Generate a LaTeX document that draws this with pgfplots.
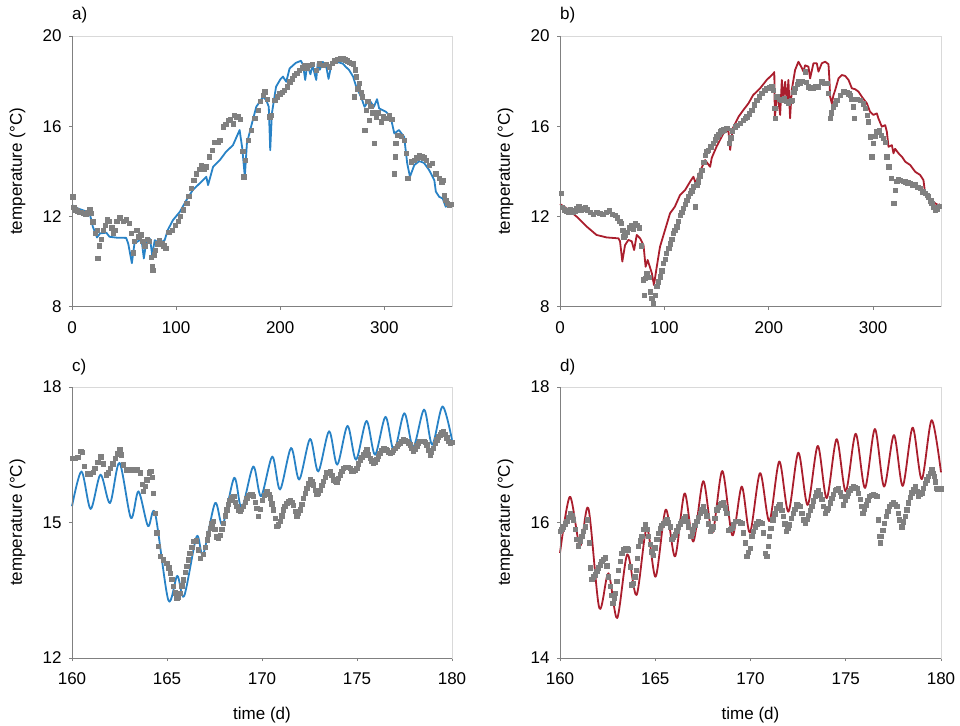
\documentclass[border=0pt]{standalone}
\usepackage{fontspec}
\setmainfont{Liberation Sans}
\usepackage{pgfplots}
\pgfplotsset{compat=1.18}
\definecolor{simblue}{RGB}{40,130,198}
\definecolor{simred}{RGB}{170,30,45}
\definecolor{obsgray}{RGB}{128,128,128}
\pgfplotsset{
  panel/.style={
    scale only axis, anchor=south west,
    axis line style={draw=black!15, line width=0.9pt},
    tick pos=left, tick align=outside, major tick length=3pt,
    every tick/.style={draw=black!50, line width=0.9pt},
    ticklabel style={font=\fontsize{17}{20}\selectfont},
    xticklabel style={yshift=-8pt},
    yticklabel style={xshift=-4pt},
    label style={font=\fontsize{17}{20}\selectfont},
    /pgf/number format/assume math mode=true,
    ylabel={temperature (°C)},
    ylabel style={at={(axis description cs:-0.1434,0.5)}, anchor=center},
    clip=false,
  },
  obs/.style={only marks, mark=square*, mark size=2.2pt, color=obsgray, mark options={draw=none, fill=obsgray}},
  simline/.style={no markers, line width=1.8pt, line join=round},
}
\newcommand{\frameLB}{\draw[black!50, line width=0.9pt] (rel axis cs:0,1) -- (rel axis cs:0,0) -- (rel axis cs:1,0);}
\newcommand{\fs}{\fontsize{17}{20}\selectfont}
\begin{document}
\begin{tikzpicture}
\useasboundingbox (0,0) rectangle (960pt,725pt);
% ---------------- a)
\begin{axis}[panel, at={(72pt,418.3pt)}, width=380pt, height=270.7pt,
  xmin=0, xmax=365, ymin=8, ymax=20, xtick={0,100,200,300}, ytick={8,12,16,20}]
\addplot[obs] coordinates {
(0.5,12.87) (1.5,12.4) (3,12.3) (5,12.25) (7,12.2) (9,12.2) (11,12.15) (13,12.1) (15,12.2) (17,12.3) (18.5,12.15)
(20,11.77) (22,11.25) (24,11.4) (24.5,10.14) (26,10.7) (28,11.0) (30,11.4) (32,11.6) (34,11.85) (36,11.8) (38,11.5)
(39.6,11.25) (41,11.4) (43,11.8) (46,11.95) (49,11.8) (52,11.85) (55,11.7) (57,11.25) (59,10.4) (60,10.9) (62,11.4)
(64,11.1) (66,11.2) (68,10.9) (70,10.7) (72,11.0) (74,10.9) (76,10.2) (77,9.77) (77.5,9.62) (79,10.3) (80,10.5)
(82,10.8) (84,10.95) (86,10.8) (88,10.7) (90,10.6) (93,11.3) (96,11.4) (99,11.6) (102,11.8) (104,12.0) (107,12.3)
(110,12.58) (112,12.9) (114.7,13.24) (117,13.6) (119.5,13.9) (122,14.1) (124,14.28) (127,14.1) (129,14.2) (132,14.65)
(134.5,14.95) (137,15.3) (140,15.3) (142,15.38) (145,15.98) (147.5,16.1) (150,16.27) (152,16.3) (154.6,16.12)
(156,16.5) (158,16.4) (159.4,16.42) (161.7,16.3) (164,14.9) (165,13.76) (166.5,14.5) (169,15.38) (172,15.83)
(175.4,16.35) (178.6,16.72) (181,17.1) (183.4,17.38) (185,17.53) (187.5,17.2) (189.8,16.42) (191.4,16.5)
(194.6,17.16) (197,17.3) (199.4,17.45) (202,17.5) (204,17.6) (206.5,17.75) (209,17.97) (211.5,18.1) (213.7,18.27)
(216,18.35) (218.5,18.49) (221,18.6) (223,18.7) (225.5,18.6) (228,18.7) (231,18.75) (234.5,18.49) (237.7,18.78)
(241,18.7) (244,18.75) (247,18.63) (250,18.8) (252.5,18.9) (255,18.96) (257.5,19.0) (260,19.0) (262.5,18.95)
(264.5,18.9) (266.5,18.85) (268.5,18.8) (270,18.78) (271,17.3) (272,18.5) (273,18.2) (274.4,17.67) (276,17.9)
(277.5,17.5) (279,17.3) (281,15.83) (282.4,16.72) (284,17.1) (285.6,16.27) (287,16.9) (289,16.6) (290,15.24)
(292,16.42) (294,16.6) (297,16.2) (299,16.45) (301.6,16.35) (304.8,16.5) (307,16.3) (309.6,13.9) (310.5,14.65)
(311,15.24) (313,15.6) (316,15.55) (319,15.38) (321,14.8) (322.4,13.69) (325.6,14.43) (328.8,14.5) (331,14.6)
(333.5,14.72) (336,14.65) (338,14.6) (340,14.5) (343,14.28) (346,14.35) (349.5,13.9) (352.7,13.69) (355,13.54)
(356.5,13.6) (357.5,12.95) (359,12.73) (360.5,12.6) (362.3,12.5) (364,12.55)
};
\addplot[simline, simblue] coordinates {
(0,12.5) (6,12.35) (12,12.25) (17,12.14) (20,11.55) (24,11.07) (27,11.25) (33,11.28) (36,11.1) (43,11.06) (52,11.05)
(54,10.8) (57.5,9.93) (60,10.8) (65,10.95) (67,10.9) (69,10.14) (71.6,10.95) (75,11.0) (77,10.3) (79.5,10.95)
(84,10.8) (89,10.95) (92,11.4) (97,11.84) (103.5,12.2) (110,12.73) (116,13.17) (122.7,13.47) (129,13.76)
(130.7,13.39) (135.5,14.2) (142,14.5) (148,14.87) (154.6,15.16) (161,15.83) (163.6,15.0) (166,13.76) (168,15.24)
(172,15.98) (177,16.86) (183.4,17.3) (186.6,17.16) (189,16.86) (190.4,14.94) (192,16.57) (196,17.75) (200,18.07)
(202.6,18.2) (205.8,17.97) (209,18.56) (215,18.81) (220,18.9) (222,18.7) (224,18.05) (226,18.75) (229,18.3)
(231,18.7) (234.6,18.05) (236,18.8) (238,18.5) (241,18.85) (244,18.7) (246.4,18.1) (249,18.7) (253.7,18.86)
(260,18.78) (263,18.63) (266,18.5) (270,18.2) (273,17.75) (277.6,17.3) (281,16.86) (283,17.0) (285.6,17.16)
(288,17.0) (290,16.86) (293,17.2) (295,16.79) (301.6,16.64) (306,16.42) (309.6,15.68) (314,15.83) (319,15.53)
(322,14.35) (324.6,13.76) (328.8,14.28) (333.5,14.45) (338,14.38) (343,14.06) (348,13.61) (349.5,13.1)
(352.7,12.87) (356,12.8) (359,12.43) (360.7,12.55) (364,12.5)
};
\frameLB
\node[anchor=west, inner sep=0pt, font=\fs] at (axis description cs:0,1.077) {a)};
\end{axis}
% ---------------- b)
\begin{axis}[panel, at={(560pt,418.3pt)}, width=381pt, height=270.7pt,
  xmin=0, xmax=365, ymin=8, ymax=20, xtick={0,100,200,300}, ytick={8,12,16,20}]
\addplot[obs] coordinates {
(1,13.02) (2,12.4) (4,12.3) (6,12.25) (8,12.2) (10,12.3) (12,12.2) (14,12.25) (16,12.35) (18,12.45) (20,12.3)
(22,12.35) (24,12.4) (26,12.3) (29,12.2) (32,12.1) (35,12.2) (38,12.15) (41,12.1) (44,12.2) (47,12.25) (50,12.1)
(53,12.05) (55,11.95) (57,11.8) (58.5,11.7) (60,11.4) (61,11.1) (62,11.2) (64,11.3) (66,11.5) (68,11.6) (70,11.45)
(72,11.7) (74,11.6) (76,11.5) (78,10.7) (79.5,9.2) (80.5,8.5) (81.5,9.25) (83,9.48) (85,9.3) (86.6,8.66) (88,8.37)
(89.5,8.15) (91,8.5) (92.7,8.9) (94,9.1) (95.8,9.33) (97.5,9.6) (99,9.92) (100.5,10.1) (102,10.36) (104,10.6)
(105.4,10.8) (107,11.0) (108.6,11.25) (110,11.4) (111.8,11.55) (113.5,11.8) (115,12.06) (116.5,12.2) (118,12.36)
(120,12.55) (121.4,12.73) (123,12.9) (124.6,13.02) (126,13.15) (127.8,13.32) (129.4,12.43) (131,13.4) (132.6,13.54)
(134,13.8) (135.8,14.06) (137.5,14.4) (139,14.72) (140.5,14.9) (142,14.95) (144.5,15.1) (147,15.24) (148.5,15.4)
(150,15.54) (152,15.65) (153.4,15.76) (155,15.8) (157,15.85) (159.7,15.9) (162,15.24) (163.5,15.5) (165,15.8)
(167.7,15.98) (170,16.05) (172.5,16.13) (175.7,16.27) (177.5,16.35) (179,16.42) (181,16.55) (183.7,16.72)
(186,16.95) (188.5,17.16) (191,17.3) (193.3,17.46) (196,17.6) (198,17.68) (200.5,17.7) (202.9,17.75) (204.5,17.6)
(205.5,16.79) (206,16.35) (207.5,17.3) (210,17.2) (212.5,17.16) (215,17.25) (217,17.1) (218.8,17.01) (221,17.1)
(222,17.16) (224,17.5) (225,17.68) (227,17.85) (228.4,17.97) (230,17.9) (232,18.0) (234.8,18.42) (236,17.95)
(238,17.75) (240,17.7) (242.8,17.68) (245,17.75) (247.6,17.75) (250.8,17.97) (253,17.9) (255.6,17.9) (257.2,17.46)
(258.8,16.35) (260,16.6) (262,16.87) (263.5,17.0) (265.2,17.16) (268.4,17.38) (271.6,17.53) (274.5,17.5)
(276.5,17.45) (277.9,17.38) (279.5,17.2) (281,16.87) (281.8,16.35) (284.5,17.2) (287.5,17.16) (290.7,17.0)
(292.5,16.8) (294,16.5) (295.5,16.2) (297,15.54) (298.7,14.65) (300.3,15.24) (302,15.55) (303.5,15.76) (305.5,15.8)
(307.5,15.6) (309.9,15.46) (311.5,15.3) (313,14.65) (314.7,14.2) (317,13.69) (319.5,12.58) (321,13.17) (322.5,13.55)
(324,13.65) (325.9,13.61) (328.5,13.55) (330.7,13.54) (333,13.5) (335.5,13.47) (338,13.4) (340.3,13.4) (342.5,13.3)
(345,13.25) (347.5,13.1) (349.8,13.02) (351.5,12.95) (353,12.87) (355,12.7) (356.2,12.58) (358,12.4) (359.4,12.29)
(361,12.35) (363,12.45)
};
\addplot[simline, simred] coordinates {
(0,12.55) (6.4,12.36) (16,11.99) (25.6,11.55) (35,11.18) (44.7,11.07) (56,11.03) (57.5,10.9) (59.7,10.0)
(62.3,10.73) (65.5,10.96) (68.7,10.9) (71,10.51) (73.5,11.18) (76.7,11.03) (80,10.73) (82,9.77) (84,10.07)
(88,9.48) (90,8.96) (92.7,9.77) (95.8,10.66) (100.6,11.4) (105.4,12.14) (110,12.43) (115,12.95) (119.8,13.17)
(124.6,13.54) (127.8,13.76) (130,13.47) (134,13.98) (139,14.5) (143.8,14.2) (145.4,14.6) (150,15.1) (156.5,15.68)
(161.3,15.83) (163,14.95) (165.5,15.9) (171,16.42) (175.7,16.72) (180.5,17.01) (185,17.38) (191.7,17.68)
(198,18.05) (204.5,18.34) (205.3,18.4) (205.8,16.35) (207.7,17.31) (209,17.2) (210.9,16.5) (212.5,18.05)
(214,17.2) (215.7,17.97) (217.3,17.0) (218.8,18.05) (220.4,16.35) (222,17.6) (225.2,18.49) (228.4,18.86)
(231.5,18.6) (233.2,18.42) (234.8,18.7) (238,18.64) (239.6,18.12) (242.8,18.79) (246,18.79) (247.6,18.42)
(250.8,18.79) (254,18.86) (257.2,18.75) (258.1,18.05) (258.8,17.31) (260.4,17.01) (262,17.38) (263.6,17.6)
(266.8,18.12) (270,18.27) (273.2,18.23) (276.4,18.05) (279.6,17.68) (282.8,17.64) (286,17.53) (289.1,17.31)
(294,17.01) (297,16.64) (300.3,16.5) (303.5,16.57) (305,16.35) (308.3,15.98) (311.5,16.05) (313.1,15.76)
(314.7,15.09) (317.9,15.16) (319.5,14.8) (321,15.0) (324.3,14.8) (327.5,14.65) (330.7,14.43) (335.5,14.28)
(340.3,13.98) (345,13.84) (348.2,13.61) (349.8,13.02) (353,12.87) (356.2,12.73) (359.4,12.58) (362.6,12.5) (364,12.55)
};
\frameLB
\node[anchor=west, inner sep=0pt, font=\fs] at (axis description cs:0,1.077) {b)};
\end{axis}
% ---------------- c)
\begin{axis}[panel, at={(72pt,67pt)}, width=380pt, height=271pt,
  xmin=160, xmax=180, ymin=12, ymax=18, xtick={160,165,170,175,180}, ytick={12,15,18},
  xlabel={time (d)}, xlabel style={at={(axis description cs:0.5,-0.21)}, anchor=center}]
\addplot[obs] coordinates {
(160.0,16.43) (160.15,16.43) (160.3,16.45) (160.45,16.58) (160.55,16.55) (160.65,16.25) (160.8,16.08) (160.95,16.08)
(161.1,16.12) (161.2,16.2) (161.35,16.33) (161.5,16.46) (161.65,16.3) (161.8,16.06) (161.9,16.1) (162.0,16.2)
(162.15,16.3) (162.26,16.43) (162.4,16.52) (162.5,16.61) (162.6,16.5) (162.7,16.28) (162.85,16.17) (163.0,16.17)
(163.2,16.17) (163.4,16.17) (163.58,16.1) (163.68,15.85) (163.75,15.69) (163.85,15.8) (163.93,15.95) (164.05,16.1)
(164.15,16.13) (164.22,16.0) (164.28,15.65) (164.37,15.21) (164.46,14.77) (164.54,14.47) (164.63,14.25) (164.8,14.18)
(164.98,14.1) (165.08,14.0) (165.16,13.88) (165.25,13.75) (165.33,13.59) (165.42,13.45) (165.5,13.33) (165.6,13.35)
(165.68,13.44) (165.77,13.6) (165.86,13.73) (165.95,13.9) (166.04,14.03) (166.12,14.18) (166.2,14.32) (166.3,14.45)
(166.4,14.58) (166.55,14.6) (166.65,14.4) (166.74,14.21) (166.9,14.3) (167.0,14.45) (167.1,14.62) (167.18,14.75)
(167.26,14.88) (167.35,14.97) (167.44,15.03) (167.52,14.85) (167.6,14.69) (167.7,14.65) (167.8,14.72) (167.88,14.85)
(167.96,14.99) (168.05,15.15) (168.14,15.28) (168.22,15.4) (168.3,15.5) (168.4,15.55) (168.5,15.58) (168.6,15.45)
(168.67,15.36) (168.76,15.28) (168.84,15.25) (168.92,15.3) (169.0,15.36) (169.1,15.45) (169.2,15.54) (169.3,15.6)
(169.37,15.62) (169.46,15.62) (169.54,15.58) (169.63,15.45) (169.72,15.32) (169.8,15.14) (169.9,15.3) (170.0,15.5)
(170.12,15.6) (170.25,15.69) (170.35,15.62) (170.42,15.55) (170.5,15.42) (170.6,15.28) (170.68,15.1) (170.77,14.92)
(170.86,14.95) (170.95,15.03) (171.03,15.15) (171.12,15.28) (171.2,15.36) (171.3,15.43) (171.4,15.47) (171.47,15.5)
(171.56,15.45) (171.65,15.38) (171.74,15.25) (171.82,15.14) (171.9,15.2) (172.0,15.28) (172.08,15.4) (172.17,15.54)
(172.26,15.65) (172.35,15.76) (172.44,15.86) (172.53,15.95) (172.62,15.9) (172.7,15.84) (172.79,15.72) (172.88,15.62)
(172.97,15.66) (173.05,15.72) (173.14,15.82) (173.23,15.91) (173.32,16.0) (173.4,16.1) (173.5,16.12) (173.58,16.13)
(173.67,16.05) (173.75,15.95) (173.84,15.92) (173.93,15.9) (174.02,15.98) (174.1,16.06) (174.19,16.13) (174.28,16.2)
(174.37,16.22) (174.45,16.23) (174.54,16.22) (174.63,16.2) (174.72,16.15) (174.8,16.13) (174.9,16.16) (174.98,16.2)
(175.07,16.3) (175.16,16.39) (175.25,16.45) (175.33,16.5) (175.42,16.56) (175.5,16.61) (175.6,16.5) (175.68,16.43)
(175.77,16.37) (175.86,16.32) (175.95,16.35) (176.03,16.4) (176.12,16.47) (176.2,16.54) (176.3,16.6) (176.4,16.65)
(176.5,16.62) (176.57,16.6) (176.65,16.55) (176.74,16.54) (176.83,16.56) (176.92,16.6) (177.0,16.64) (177.1,16.69)
(177.18,16.73) (177.26,16.76) (177.35,16.8) (177.44,16.83) (177.52,16.82) (177.62,16.8) (177.71,16.76) (177.8,16.72)
(177.88,16.64) (177.96,16.58) (178.05,16.62) (178.14,16.7) (178.22,16.76) (178.3,16.8) (178.4,16.8) (178.5,16.8)
(178.58,16.78) (178.67,16.72) (178.76,16.6) (178.84,16.5) (178.92,16.55) (179.02,16.65) (179.1,16.75) (179.2,16.83)
(179.28,16.9) (179.37,16.94) (179.46,16.99) (179.54,17.02) (179.63,16.95) (179.72,16.88) (179.8,16.8) (179.9,16.76)
(180.0,16.78)
};
\addplot[simline, simblue, smooth] coordinates {
(160,15.36) (160.5,16.13) (160.98,15.3) (161.5,16.06) (162.0,15.43) (162.5,16.32) (163.1,15.1) (163.5,15.69)
(164.0,14.92) (164.37,15.21) (165.07,13.28) (165.54,13.82) (165.9,13.37) (166.56,14.69) (166.9,14.29) (167.53,15.43)
(167.93,14.95) (168.54,15.99) (168.93,15.32) (169.54,16.24) (169.95,15.58) (170.54,16.46) (170.95,15.73)
(171.53,16.65) (171.96,15.95) (172.53,16.85) (172.96,16.13) (173.53,17.02) (173.96,16.28) (174.5,17.14)
(174.95,16.39) (175.5,17.25) (175.95,16.5) (176.5,17.34) (176.95,16.58) (177.49,17.42) (177.96,16.67)
(178.53,17.5) (178.96,16.72) (179.5,17.57) (180,16.83)
};
\frameLB
\node[anchor=west, inner sep=0pt, font=\fs] at (axis description cs:0,1.072) {c)};
\end{axis}
% ---------------- d)
\begin{axis}[panel, at={(560pt,67pt)}, width=381pt, height=271pt,
  xmin=160, xmax=180, ymin=14, ymax=18, xtick={160,165,170,175,180}, ytick={14,16,18},
  xlabel={time (d)}, xlabel style={at={(axis description cs:0.5,-0.21)}, anchor=center}]
\addplot[obs] coordinates {
(160.0,15.87) (160.08,15.9) (160.17,15.94) (160.26,15.98) (160.35,16.02) (160.43,16.08) (160.52,16.14) (160.61,16.1)
(160.7,16.04) (160.79,15.9) (160.88,15.75) (160.97,15.66) (161.05,15.72) (161.14,15.8) (161.22,15.87) (161.31,15.94)
(161.43,16.04) (161.54,15.7) (161.57,15.33) (161.66,15.16) (161.75,15.2) (161.84,15.23) (161.92,15.28) (162.0,15.33)
(162.1,15.38) (162.19,15.43) (162.28,15.46) (162.36,15.48) (162.45,15.36) (162.54,15.2) (162.62,15.06) (162.69,14.93)
(162.76,14.81) (162.83,14.88) (162.89,14.96) (162.97,15.13) (163.06,15.3) (163.15,15.43) (163.24,15.55) (163.32,15.6)
(163.41,15.62) (163.5,15.62) (163.59,15.6) (163.67,15.35) (163.76,15.08) (163.85,15.1) (163.92,15.2) (163.99,15.3)
(164.05,15.47) (164.11,15.65) (164.2,15.73) (164.29,15.8) (164.37,15.9) (164.46,15.97) (164.55,15.9) (164.64,15.8)
(164.72,15.68) (164.81,15.57) (164.9,15.52) (164.98,15.63) (165.07,15.75) (165.16,15.84) (165.25,15.92) (165.33,15.96)
(165.42,15.99) (165.51,16.02) (165.6,16.04) (165.68,16.0) (165.77,15.94) (165.86,15.75) (165.95,15.79) (166.04,15.82)
(166.12,15.88) (166.21,15.94) (166.3,15.98) (166.39,16.02) (166.47,16.06) (166.56,16.09) (166.65,16.02) (166.74,15.94)
(166.86,15.8) (166.93,15.85) (167.0,15.9) (167.08,15.96) (167.17,16.02) (167.26,16.08) (167.35,16.14) (167.43,16.19)
(167.52,16.24) (167.61,16.17) (167.7,16.1) (167.78,15.98) (167.87,15.87) (167.96,15.9) (168.05,15.94) (168.13,16.06)
(168.22,16.19) (168.31,16.23) (168.4,16.26) (168.48,16.28) (168.57,16.29) (168.66,16.22) (168.75,16.14) (168.84,15.89)
(168.92,15.9) (169.01,15.92) (169.1,15.97) (169.19,16.02) (169.28,16.02) (169.36,16.02) (169.45,16.0) (169.54,15.99)
(169.62,15.85) (169.71,15.7) (169.8,15.5) (169.88,15.56) (169.97,15.62) (170.06,15.8) (170.15,15.87) (170.24,15.94)
(170.32,15.98) (170.41,16.02) (170.5,16.0) (170.59,15.99) (170.67,15.85) (170.76,15.55) (170.85,15.5) (170.92,15.65)
(170.99,15.8) (171.07,15.92) (171.16,16.04) (171.26,16.13) (171.37,16.21) (171.45,16.24) (171.54,16.26) (171.63,16.18)
(171.72,16.09) (171.79,15.98) (171.86,15.87) (171.95,15.92) (172.03,15.97) (172.14,16.06) (172.25,16.14) (172.33,16.2)
(172.42,16.26) (172.51,16.25) (172.6,16.24) (172.68,16.14) (172.77,16.04) (172.86,15.99) (172.95,16.05) (173.04,16.11)
(173.12,16.18) (173.21,16.24) (173.3,16.32) (173.39,16.39) (173.47,16.44) (173.56,16.48) (173.65,16.41) (173.74,16.34)
(173.82,16.24) (173.91,16.14) (174.0,16.18) (174.09,16.21) (174.17,16.29) (174.26,16.36) (174.35,16.42) (174.44,16.48)
(174.52,16.49) (174.61,16.5) (174.7,16.45) (174.79,16.39) (174.88,16.26) (174.96,16.33) (175.05,16.39) (175.14,16.44)
(175.23,16.48) (175.31,16.51) (175.4,16.53) (175.49,16.52) (175.58,16.51) (175.66,16.43) (175.75,16.34) (175.82,16.24)
(175.89,16.14) (175.98,16.2) (176.07,16.26) (176.15,16.33) (176.24,16.39) (176.35,16.4) (176.45,16.41) (176.53,16.4)
(176.62,16.39) (176.71,16.04) (176.76,15.8) (176.8,15.7) (176.87,15.8) (176.94,15.89) (177.02,15.99) (177.11,16.09)
(177.2,16.17) (177.29,16.24) (177.4,16.27) (177.5,16.29) (177.58,16.27) (177.67,16.24) (177.74,16.14) (177.81,16.04)
(177.94,15.94) (178.02,16.01) (178.11,16.09) (178.2,16.19) (178.29,16.29) (178.37,16.37) (178.46,16.44) (178.55,16.49)
(178.64,16.53) (178.72,16.46) (178.81,16.39) (178.9,16.42) (178.99,16.44) (179.07,16.51) (179.16,16.58) (179.25,16.63)
(179.34,16.68) (179.42,16.73) (179.51,16.78) (179.58,16.73) (179.64,16.68) (179.69,16.6) (179.74,16.51) (179.82,16.5)
(179.91,16.5) (180.0,16.5)
};
\addplot[simline, simred, smooth] coordinates {
(160,15.55) (160.52,16.38) (161.05,15.65) (161.49,16.21) (162.06,14.74) (162.54,15.25) (163.0,14.59) (163.53,15.53)
(164.02,14.93) (164.55,15.92) (165.02,15.2) (165.55,16.19) (166.04,15.5) (166.54,16.43) (167.0,15.72) (167.52,16.61)
(168.0,15.85) (168.52,16.76) (169.05,15.81) (169.54,16.53) (169.97,15.85) (170.5,16.73) (170.99,16.02) (171.51,16.9)
(171.99,16.16) (172.51,17.03) (173.0,16.26) (173.53,17.13) (174.0,16.36) (174.52,17.23) (175.0,16.46) (175.52,17.31)
(176.01,16.51) (176.53,17.38) (177.01,16.53) (177.53,17.29) (177.99,16.54) (178.51,17.4) (178.99,16.64) (179.51,17.51)
(180,16.74)
};
\frameLB
\node[anchor=west, inner sep=0pt, font=\fs] at (axis description cs:0,1.072) {d)};
\end{axis}
\end{tikzpicture}
\end{document}
